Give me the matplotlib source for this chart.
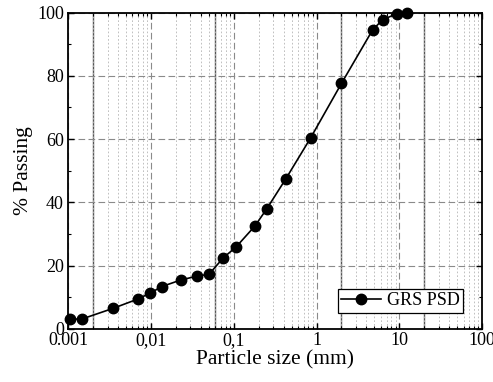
import numpy as np
import matplotlib.pyplot as plt
from matplotlib.ticker import LogLocator, FixedLocator, MultipleLocator

plt.rcParams["font.family"] = ["Liberation Serif", "DejaVu Serif"]

# particle size (mm) and percent passing
size_mm = [0.00106, 0.00146, 0.0035, 0.0069, 0.0098, 0.0136, 0.0232, 0.0365,
           0.0505, 0.075, 0.106, 0.18, 0.25, 0.425, 0.85, 2.0, 4.75, 6.3,
           9.5, 12.5]
passing = [3.1, 3.1, 6.5, 9.4, 11.3, 13.4, 15.5, 16.7, 17.3, 22.5, 25.8,
           32.5, 37.9, 47.4, 60.4, 77.6, 94.5, 97.8, 99.7, 99.9]

# clay / silt / sand / gravel boundaries
bounds = [0.002, 0.06, 2.0, 20.0]

x_ticks = [0.001, 0.01, 0.1, 1, 10, 100]
x_tick_labels = ["0.001", "0,01", "0,1", "1", "10", "100"]


def main():
    fig = plt.figure(figsize=(4.93, 3.82), dpi=100)
    ax = fig.add_axes([0.138, 0.139, 0.840, 0.828])

    ax.set_xscale("log")
    ax.set_xlim(0.001, 100)
    ax.set_ylim(0, 100)

    ax.grid(which="major", axis="both", color="#8a8a8a", linestyle=(0, (6, 3)), linewidth=0.8)
    ax.grid(which="minor", axis="x", color="#b5b5b5", linestyle=(0, (2, 2.5)), linewidth=0.6)

    for b in bounds:
        ax.axvline(b, color="#555555", linewidth=1.0, zorder=1.5)

    ax.plot(size_mm, passing, color="black", linewidth=1.2, marker="o",
            markersize=7.5, label="GRS PSD", zorder=3, clip_on=False)

    ax.xaxis.set_major_locator(FixedLocator(x_ticks))
    ax.set_xticklabels(x_tick_labels)
    ax.xaxis.set_minor_locator(LogLocator(base=10, subs=np.arange(2, 10)))
    ax.xaxis.set_minor_formatter(plt.NullFormatter())
    ax.yaxis.set_major_locator(MultipleLocator(20))
    ax.yaxis.set_minor_locator(MultipleLocator(10))

    ax.tick_params(which="both", direction="in", top=True, right=True, labelsize=13)
    ax.tick_params(which="major", length=4, width=1)
    ax.tick_params(which="minor", length=2.5, width=0.8)
    ax.tick_params(axis="x", pad=2)
    ax.tick_params(axis="y", pad=3)
    for s in ax.spines.values():
        s.set_linewidth(1.3)

    ax.set_xlabel("Particle size (mm)", fontsize=15.5, labelpad=1)
    ax.set_ylabel("% Passing", fontsize=15.5, labelpad=3)

    leg = ax.legend(loc="lower right", bbox_to_anchor=(0.954, 0.05), borderaxespad=0,
                    fontsize=13, fancybox=False, framealpha=1, edgecolor="black",
                    handlelength=2.2, handletextpad=0.3, borderpad=0.2)
    leg.get_frame().set_linewidth(0.9)

    fig.savefig("out.png")
    plt.close(fig)


if __name__ == "__main__":
    main()
